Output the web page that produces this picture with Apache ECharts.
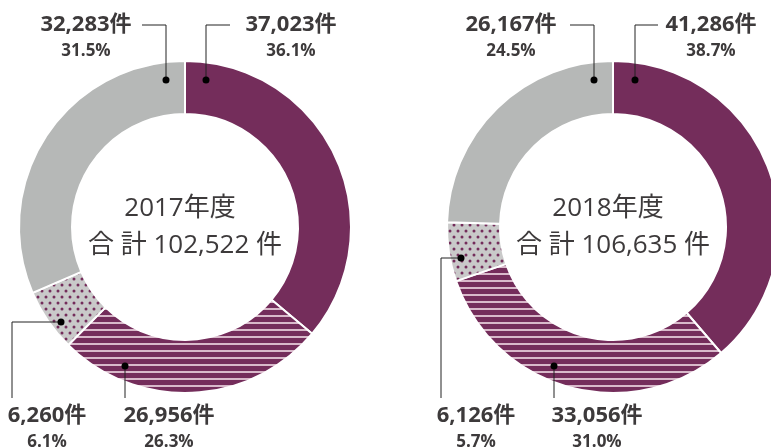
<!DOCTYPE html>
<html lang="ja">
<head>
<meta charset="UTF-8">
<title>件数 2017-2018</title>
<script src="https://cdn.jsdelivr.net/npm/echarts@6/dist/echarts.min.js"></script>
<style>
  html, body { margin: 0; padding: 0; background: #fff; }
  #main { width: 771px; height: 448px; }
</style>
</head>
<body>
<div id="main"></div>
<script>
    // データ（時計回り、上から）
    var years = ['2017年度', '2018年度'];
    var totals = ['102,522', '106,635'];
    var categories = ['区分A', '区分B', '区分C', '区分D'];
    var counts2017 = [37023, 26956, 6260, 32283];
    var counts2018 = [41286, 33056, 6126, 26167];
    var pct2017 = ['36.1', '26.3', '6.1', '31.5'];
    var pct2018 = ['38.7', '31.0', '5.7', '24.5'];

    var PURPLE = '#742d5b';
    var GREY = '#b6b8b7';
    var TEXT = '#3d3a3b';
    var FONT = '"Open Sans", "Noto Sans CJK JP", sans-serif';

    // 模様（横縞・ドット）
    function makeHatch() {
        var c = document.createElement('canvas');
        c.width = 8; c.height = 7;
        var ctx = c.getContext('2d');
        ctx.fillStyle = PURPLE;
        ctx.fillRect(0, 0, 8, 7);
        ctx.fillStyle = '#d8b9ca';
        ctx.fillRect(0, 0, 8, 2);
        return c;
    }
    function makeDots() {
        var c = document.createElement('canvas');
        c.width = 8; c.height = 12;
        var ctx = c.getContext('2d');
        ctx.fillStyle = '#c9c9c9';
        ctx.fillRect(0, 0, 8, 12);
        ctx.fillStyle = PURPLE;
        [[2, 3], [6, 9]].forEach(function (p) {
            ctx.beginPath();
            ctx.arc(p[0], p[1], 1.5, 0, Math.PI * 2);
            ctx.fill();
        });
        return c;
    }
    var sliceColors = [
        PURPLE,
        { image: makeHatch(), repeat: 'repeat' },
        { image: makeDots(), repeat: 'repeat' },
        GREY
    ];

    // ラベルの配置（点, 折れ線, 文字の中心）
    var layouts = [
        {
            center: [185, 227],
            items: [
                { pts: [[206, 80], [206, 25], [230, 25]], tx: 291, ty: 25 },
                { pts: [[125, 366], [125, 398]], tx: 169, ty: 416 },
                { pts: [[61, 322], [12, 322], [12, 398]], tx: 47, ty: 416 },
                { pts: [[166, 80], [166, 25], [142, 25]], tx: 86, ty: 25 }
            ]
        },
        {
            center: [613, 227],
            items: [
                { pts: [[635, 80], [635, 25], [658, 25]], tx: 711, ty: 25 },
                { pts: [[554, 366], [554, 398]], tx: 597, ty: 416 },
                { pts: [[461, 258], [441, 258], [441, 398]], tx: 476, ty: 416 },
                { pts: [[594, 80], [594, 25], [570, 25]], tx: 511, ty: 25 }
            ]
        }
    ];

    function fmt(n) {
        return String(n).replace(/\B(?=(\d{3})+(?!\d))/g, ',');
    }

    var allCounts = [counts2017, counts2018];
    var allPct = [pct2017, pct2018];

    var series = [];
    var graphics = [];
    layouts.forEach(function (lay, k) {
        series.push({
            type: 'pie',
            name: years[k],
            center: lay.center,
            radius: [113, 166],
            startAngle: 90,
            clockwise: true,
            silent: true,
            label: { show: false },
            labelLine: { show: false },
            itemStyle: { borderColor: '#fff', borderWidth: 2 },
            data: categories.map(function (c, i) {
                return { name: c, value: allCounts[k][i], itemStyle: { color: sliceColors[i] } };
            })
        });
        // 中央の文字
        graphics.push({
            type: 'text', x: lay.center[0] - 5, y: 209,
            style: { text: years[k], font: '26px ' + FONT, fill: TEXT, textAlign: 'center', textVerticalAlign: 'middle' }
        });
        graphics.push({
            type: 'text', x: lay.center[0], y: 246,
            style: { text: '合 計 ' + totals[k] + ' 件', font: '26px ' + FONT, fill: TEXT, textAlign: 'center', textVerticalAlign: 'middle' }
        });
        lay.items.forEach(function (it, i) {
            graphics.push({
                type: 'polyline',
                shape: { points: it.pts },
                style: { stroke: '#222', lineWidth: 1, fill: null },
                z: 10
            });
            graphics.push({
                type: 'circle',
                shape: { cx: it.pts[0][0], cy: it.pts[0][1], r: 3.5 },
                style: { fill: '#000' },
                z: 11
            });
            graphics.push({
                type: 'text', x: it.tx, y: it.ty,
                style: { text: fmt(allCounts[k][i]) + '件', font: 'bold 22px ' + FONT, fill: TEXT, textAlign: 'center', textVerticalAlign: 'middle' },
                z: 10
            });
            graphics.push({
                type: 'text', x: it.tx, y: it.ty + 26,
                style: { text: allPct[k][i] + '%', font: 'bold 17px ' + FONT, fill: TEXT, textAlign: 'center', textVerticalAlign: 'middle' },
                z: 10
            });
        });
    });

    var myChart = echarts.init(document.getElementById('main'), null, { renderer: 'canvas' });
    var option = {
        animation: false,
        backgroundColor: '#fff',
        series: series,
        graphic: graphics
    };
    myChart.setOption(option);
</script>
</body>
</html>
